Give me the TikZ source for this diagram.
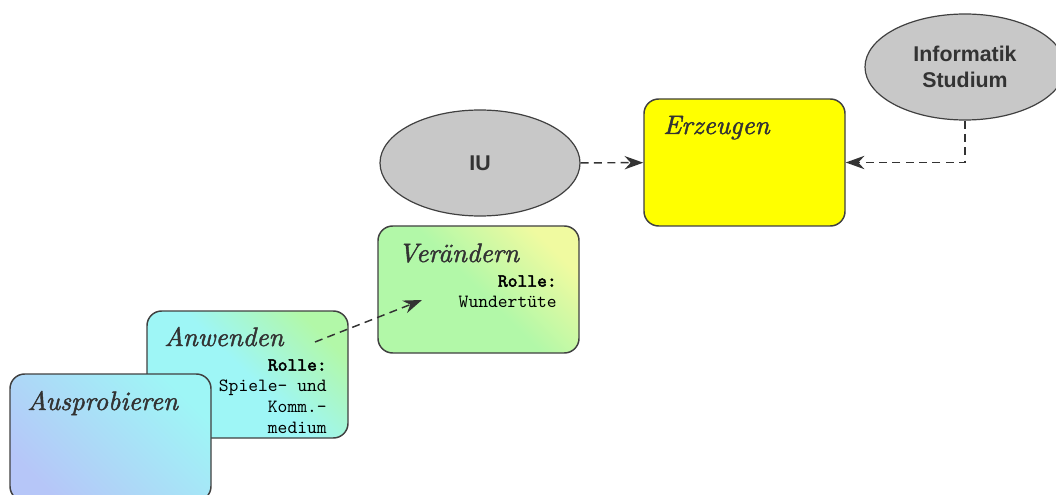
\documentclass[tikz,border=0pt]{standalone}
\usepackage{fontspec}
\setsansfont{Liberation Sans}
\setmonofont{lmmono10-regular.otf}[BoldFont=lmmono10-regular.otf,BoldFeatures={FakeBold=2.5}]
\newfontfamily\titelfont{lmroman10-italic.otf}[FakeBold=1.6]
\usetikzlibrary{shapes.geometric,arrows.meta}

\definecolor{lavendel}{HTML}{B6C6F8}
\definecolor{tuerkis}{HTML}{9EF6F6}
\definecolor{hellgruen}{HTML}{B2F8A8}
\definecolor{hellgelb}{HTML}{F0FAA0}
\definecolor{gelb}{HTML}{FFFF00}
\definecolor{wolkengrau}{HTML}{C8C8C8}

\begin{document}
\begin{tikzpicture}[x=0.75pt,y=-0.75pt,
    stufe/.style={draw=black!75,line width=1.1pt,rounded corners=11pt,
        minimum width=150.75pt,minimum height=95.25pt,inner sep=0pt},
    wolke/.style={ellipse,draw=black!75,line width=0.9pt,fill=wolkengrau,
        minimum width=150pt,minimum height=79.5pt,align=center,text=black!80,
        font=\sffamily\bfseries\fontsize{16}{19.5}\selectfont},
    titel/.style={anchor=base west,inner sep=0pt,text=black!80,
        font=\titelfont\fontsize{20}{24}\selectfont},
    rolle/.style={anchor=north east,inner sep=0pt,align=right,
        font=\ttfamily\fontsize{14}{15.75}\selectfont},
    pfeil/.style={draw=black!80,line width=1.1pt,dash pattern=on 6pt off 4pt,
        -{Stealth[length=14pt,width=10pt]}}]
    \useasboundingbox (0,0) rectangle (1056,495);

    % Stufen
    \node[stufe,bottom color=tuerkis,top color=hellgruen,middle color=tuerkis,
        shading angle=-45] (anwenden) at (247.5,374.5) {};
    \node[titel] (anwendentitel) at (164,346) {Anwenden};
    \node[rolle] (anwendenrolle) at (327,359) {\textbf{Rolle:}\\Spiele- und\\Komm.-\\medium};

    \node[stufe,bottom color=lavendel,top color=tuerkis,
        shading angle=-45] (ausprobieren) at (110.5,437.5) {};
    \node[titel] (ausprobierentitel) at (27,410) {Ausprobieren};

    \node[stufe,bottom color=hellgruen,top color=hellgelb,middle color=hellgruen,
        shading angle=-45] (veraendern) at (478.5,289.5) {};
    \node[titel] (veraenderntitel) at (398,262) {Verändern};
    \node[rolle] (veraendernrolle) at (557,275) {\textbf{Rolle:}\\Wundertüte};

    \node[stufe,fill=gelb] (erzeugen) at (744.5,162.5) {};
    \node[titel] (erzeugentitel) at (663,134) {Erzeugen};

    % Einfluesse
    \node[wolke] (iu) at (480,163) {IU};
    \node[wolke] (studium) at (965,67) {Informatik\\Studium};

    % Pfeile
    \coordinate (von) at (315,342);
    \coordinate (nach) at (422,300);
    \draw[pfeil] (von) -- (nach);
    \draw[pfeil] (iu) -- (erzeugen);
    \draw[pfeil] (studium) |- (erzeugen);
\end{tikzpicture}
\end{document}
